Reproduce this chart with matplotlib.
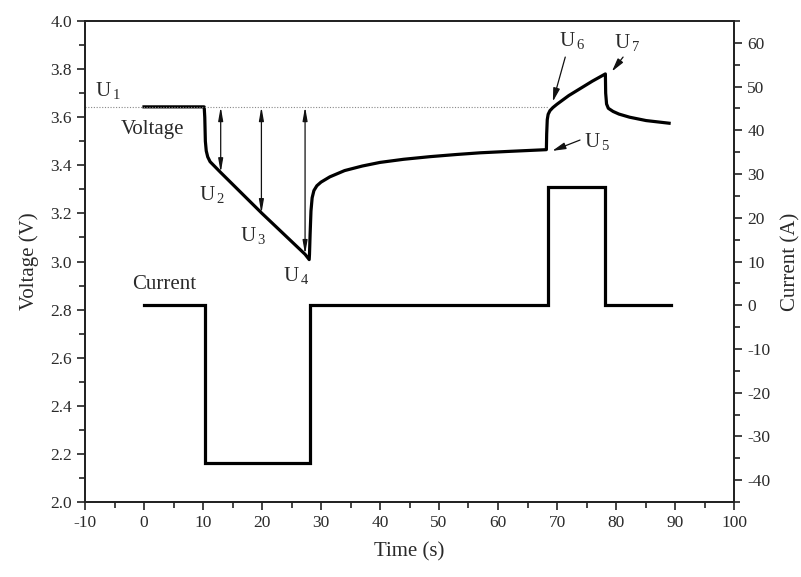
import matplotlib
matplotlib.use("Agg")
import matplotlib.pyplot as plt
from matplotlib.ticker import MultipleLocator

plt.rcParams['font.family'] = ['Liberation Serif', 'DejaVu Serif']
plt.rcParams['mathtext.fontset'] = 'custom'
plt.rcParams['mathtext.rm'] = 'Liberation Serif'
plt.rcParams['mathtext.it'] = 'Liberation Serif:italic'

# ---- data ----
volt_t = [0, 10.2, 10.3, 10.4, 10.55, 10.8, 11.2, 13.0, 20.0, 27.3, 28.0,
          28.05, 28.15, 28.3, 28.5, 28.8, 29.3, 30.0, 31.5, 34.0, 37.0,
          40, 44, 48.5, 53, 57, 62, 68.2,
          68.25, 68.35, 68.5, 68.8, 69.3, 70, 72, 74, 76, 78.2,
          78.25, 78.4, 78.7, 79.5, 80.5, 82.3, 85.1, 89]
volt_v = [3.643, 3.643, 3.60, 3.50, 3.46, 3.435, 3.415, 3.37, 3.20, 3.03, 3.008,
          3.03, 3.11, 3.21, 3.265, 3.295, 3.315, 3.33, 3.352, 3.378, 3.397,
          3.412, 3.425, 3.436, 3.445, 3.452, 3.458, 3.465,
          3.53, 3.59, 3.612, 3.627, 3.64, 3.654, 3.69, 3.72, 3.75, 3.78,
          3.70, 3.655, 3.637, 3.624, 3.613, 3.60, 3.586, 3.575]

curr_t = [0, 10.3, 10.3, 28.2, 28.2, 68.4, 68.4, 78.2, 78.2, 89.3]
curr_a = [0, 0, -36, -36, 0, 0, 27, 27, 0, 0]

u1_level = 3.643
u1_end_t = 68.5
arrow_t = [13.0, 19.9, 27.3]
arrow_v = [3.37, 3.20, 3.03]

txt_col = '#2a2a2a'

fig = plt.figure(figsize=(8.01, 5.77), dpi=100)
ax = fig.add_axes([85/801, 75/577, (734-85)/801, (502-21)/577])
ax2 = ax.twinx()

ax.plot(volt_t, volt_v, color='black', lw=2.3, solid_joinstyle='round')
ax2.plot(curr_t, curr_a, color='black', lw=2.3, solid_joinstyle='miter')

ax.plot([-10, u1_end_t], [u1_level, u1_level], ls=(0, (1, 1.5)), color='#888888', lw=0.8)

for t, v in zip(arrow_t, arrow_v):
    ax.annotate('', xy=(t, v), xytext=(t, u1_level),
                arrowprops=dict(arrowstyle='<|-|>,head_length=0.8,head_width=0.14',
                                color='#111111', lw=0.9, shrinkA=0, shrinkB=0))

ax.set_xlim(-10, 100)
ax.set_ylim(2.0, 4.0)
ax2.set_ylim(-45, 65)

ax.xaxis.set_minor_locator(MultipleLocator(5))
ax.yaxis.set_minor_locator(MultipleLocator(0.1))
ax2.yaxis.set_minor_locator(MultipleLocator(5))

ax.set_xticks(range(-10, 101, 10))
ax.set_xticklabels([str(v) for v in range(-10, 101, 10)])
ax.set_yticks([2.0 + 0.2 * i for i in range(11)])
ax.set_yticklabels(['%.1f' % (2.0 + 0.2 * i) for i in range(11)])
ax2.set_yticks(list(range(-40, 61, 10)))
ax2.set_yticklabels([str(v) for v in range(-40, 61, 10)])

for a in (ax, ax2):
    a.tick_params(which='major', direction='out', length=6, width=1.2,
                  labelsize=12.5, labelcolor=txt_col, color='#222222')
    a.tick_params(which='minor', direction='out', length=4, width=1.2, color='#222222')
    for s in a.spines.values():
        s.set_linewidth(1.3)
        s.set_color('#222222')
ax.tick_params(axis='x', which='both', top=False)

ax.set_xlabel('Time (s)', fontsize=15, color=txt_col, labelpad=8)
ax.set_ylabel('Voltage (V)', fontsize=15, color=txt_col, labelpad=8)
ax2.set_ylabel('Current (A)', fontsize=15, color=txt_col, labelpad=8)

fs = 15
def ulabel(x, y, n):
    ax.text(x, y, r'U$_{\,' + n + r'}$', fontsize=fs, color=txt_col, ha='left', va='center')

ulabel(-8.3, 3.71, '1')
ax.text(-4.0, 3.55, 'Voltage', fontsize=fs, color=txt_col, ha='left', va='center')
ulabel(9.3, 3.28, '2')
ulabel(16.2, 3.11, '3')
ulabel(23.6, 2.94, '4')
ax.text(-2.0, 2.905, 'Current', fontsize=fs, color=txt_col, ha='left', va='center')
ulabel(74.5, 3.50, '5')
ulabel(70.3, 3.92, '6')
ulabel(79.7, 3.91, '7')

arrow_kw = dict(arrowstyle='-|>,head_length=0.8,head_width=0.2', color='#111111',
                lw=0.9, shrinkA=0, shrinkB=0)
ax.annotate('', xy=(69.2, 3.46), xytext=(73.9, 3.505), arrowprops=arrow_kw)
ax.annotate('', xy=(69.3, 3.665), xytext=(71.4, 3.85), arrowprops=arrow_kw)
ax.annotate('', xy=(79.3, 3.79), xytext=(81.2, 3.85), arrowprops=arrow_kw)

fig.savefig('out.png', dpi=100)
